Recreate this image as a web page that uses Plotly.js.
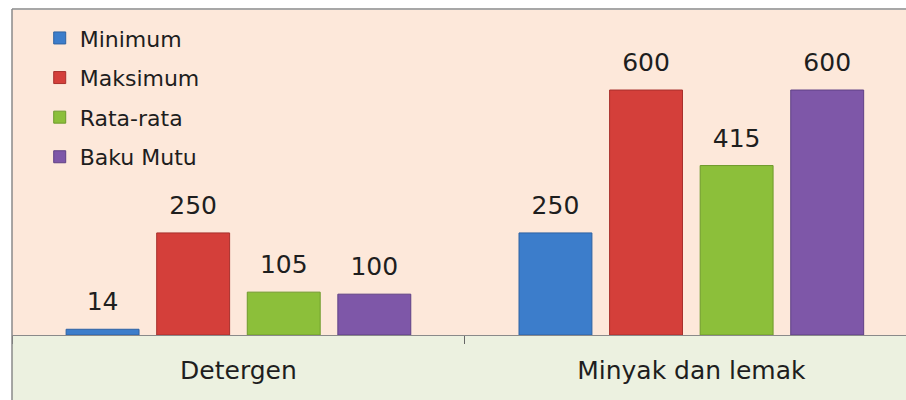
<!DOCTYPE html>
<html>
<head>
<meta charset="utf-8">
<script src="https://cdn.plot.ly/plotly-3.0.1.min.js"></script>
<style>html,body{margin:0;padding:0;background:#fff;}#chart{width:906px;height:400px;}</style>
</head>
<body>
<div id="chart"></div>
<script>
const categories = ["Detergen", "Minyak dan lemak"];
const seriesNames = ["Minimum", "Maksimum", "Rata-rata", "Baku Mutu"];
const minimum = [14, 250];
const maksimum = [250, 600];
const rataRata = [105, 415];
const bakuMutu = [100, 600];

const values = [minimum, maksimum, rataRata, bakuMutu];
const colors = ["#3C7DCB", "#D43F3A", "#8CBF3A", "#7E57A8"];
const lineColors = ["#2E62A3", "#A8302C", "#6E9A2B", "#5F4085"];
const labelLift = 24; // gap (in value units) between bar top and its value label

const barTraces = seriesNames.map((name, i) => ({
  type: "bar",
  name: name,
  x: categories,
  y: values[i],
  offsetgroup: "s" + i,
  legendgroup: "g" + i,
  marker: {color: colors[i], line: {color: lineColors[i], width: 1}},
  hoverinfo: "x+y+name"
}));

// transparent spacer bars sitting on top of each bar, carrying the value label
const labelTraces = seriesNames.map((name, i) => ({
  type: "bar",
  name: name,
  x: categories,
  base: values[i],
  y: values[i].map(() => labelLift),
  offsetgroup: "s" + i,
  legendgroup: "g" + i,
  showlegend: false,
  marker: {color: "rgba(0,0,0,0)", line: {width: 0}},
  text: values[i].map(String),
  texttemplate: "%{text}",
  textposition: "outside",
  cliponaxis: false,
  textfont: {family: "DejaVu Sans", size: 25, color: "#1e1e1e"},
  hoverinfo: "skip"
}));

const layout = {
  width: 906,
  height: 400,
  margin: {l: 12, r: 0, t: 10, b: 65},
  paper_bgcolor: "#ffffff",
  plot_bgcolor: "#FDE8DA",
  barmode: "group",
  bargap: 0.2,
  bargroupgap: 0.195,
  showlegend: true,
  legend: {
    x: 0.031, y: 0.978, xanchor: "left", yanchor: "top",
    bgcolor: "rgba(0,0,0,0)",
    font: {family: "DejaVu Sans", size: 22, color: "#1e1e1e"},
    traceorder: "grouped",
    tracegroupgap: 8
  },
  xaxis: {
    type: "category",
    range: [-0.5, 1.474],
    showline: true,
    linecolor: "#8a8a8a",
    linewidth: 1,
    ticks: "outside",
    tickson: "boundaries",
    ticklen: 8,
    tickcolor: "#666666",
    ticklabelstandoff: 13,
    tickfont: {family: "DejaVu Sans", size: 25, color: "#1e1e1e"},
    showgrid: false,
    zeroline: false,
    fixedrange: true
  },
  yaxis: {
    range: [0, 796],
    showticklabels: false,
    showgrid: false,
    zeroline: false,
    showline: false,
    ticks: "",
    fixedrange: true
  },
  shapes: [
    {type: "rect", xref: "paper", yref: "paper", x0: 0, x1: 1, y0: -0.2, y1: 0,
     fillcolor: "#ECF1E0", line: {width: 0}, layer: "below"},
    {type: "line", xref: "paper", yref: "paper", x0: 0, x1: 1, y0: 1.003, y1: 1.003,
     line: {color: "#8a8a8a", width: 1.5}},
    {type: "line", xref: "paper", yref: "paper", x0: 0, x1: 0, y0: -0.2, y1: 1.003,
     line: {color: "#8a8a8a", width: 1.5}}
  ]
};

Plotly.newPlot("chart", barTraces.concat(labelTraces), layout, {displayModeBar: false, staticPlot: true});
</script>
</body>
</html>
